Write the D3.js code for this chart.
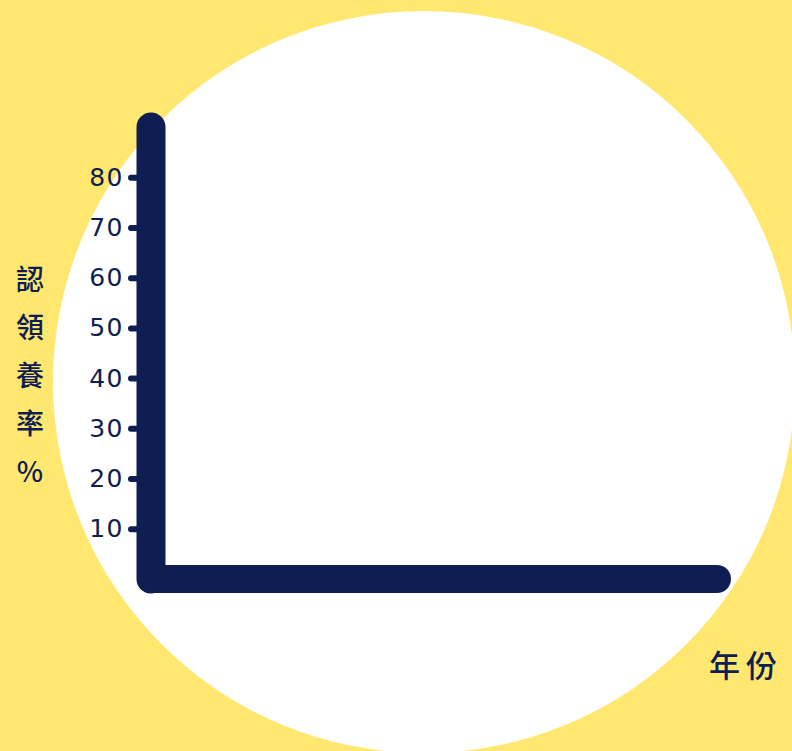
<!DOCTYPE html>
<html>
<head>
<meta charset="utf-8">
<script src="https://cdn.jsdelivr.net/npm/d3@7"></script>
<style>
  html, body { margin: 0; padding: 0; background: #ffe770; }
  svg { display: block; }
</style>
</head>
<body>
<div id="chart"></div>
<script>
// Empty adoption-rate chart: only the axes, y ticks and titles are shown.
const yTicks = [10, 20, 30, 40, 50, 60, 70, 80];
const yDomain = [0, 90];
const years = [];               // no year categories are drawn on the x axis
const yTitle = ["認", "領", "養", "率", "%"];
const xTitle = "年份";

const W = 792, H = 751;
const NAVY = "#0e1e52";

const svg = d3.select("#chart").append("svg")
  .attr("width", W).attr("height", H);

svg.append("rect").attr("width", W).attr("height", H).attr("fill", "#ffe770");
svg.append("circle").attr("cx", 424).attr("cy", 382).attr("r", 371).attr("fill", "#ffffff");

const axisX = 151;
const y = d3.scaleLinear().domain(yDomain).range([579, 127]);
const x = d3.scalePoint().domain(years).range([axisX, 717]);

// thick rounded axis bars
svg.append("line")
  .attr("x1", axisX).attr("x2", axisX)
  .attr("y1", y(yDomain[0])).attr("y2", y(yDomain[1]))
  .attr("stroke", NAVY).attr("stroke-width", 29).attr("stroke-linecap", "round");
svg.append("line")
  .attr("x1", x.range()[0]).attr("x2", x.range()[1])
  .attr("y1", y(0)).attr("y2", y(0))
  .attr("stroke", NAVY).attr("stroke-width", 28).attr("stroke-linecap", "round");

// y ticks
const gy = svg.append("g")
  .attr("transform", `translate(${axisX - 14},0)`)
  .call(d3.axisLeft(y).tickValues(yTicks).tickSize(6).tickPadding(7));
gy.select(".domain").remove();
gy.selectAll(".tick line")
  .attr("stroke", NAVY).attr("stroke-width", 6).attr("stroke-linecap", "round");
gy.selectAll(".tick text")
  .attr("fill", NAVY)
  .attr("font-family", "'DejaVu Sans', sans-serif")
  .attr("font-size", 25)
  .attr("letter-spacing", 1.5);

// vertical y title, one character per line
svg.append("g").selectAll("text")
  .data(yTitle)
  .join("text")
  .attr("x", 30)
  .attr("y", (d, i) => 278 + i * 48)
  .attr("text-anchor", "middle")
  .attr("dominant-baseline", "central")
  .attr("fill", NAVY)
  .attr("font-family", "'Noto Sans CJK TC', sans-serif")
  .attr("font-weight", 500)
  .attr("font-size", 28)
  .text(d => d);

svg.append("text")
  .attr("x", 746).attr("y", 663)
  .attr("text-anchor", "middle")
  .attr("dominant-baseline", "central")
  .attr("fill", NAVY)
  .attr("font-family", "'Noto Sans CJK TC', sans-serif")
  .attr("font-weight", 500)
  .attr("font-size", 31)
  .attr("letter-spacing", 6)
  .text(xTitle);
</script>
</body>
</html>
